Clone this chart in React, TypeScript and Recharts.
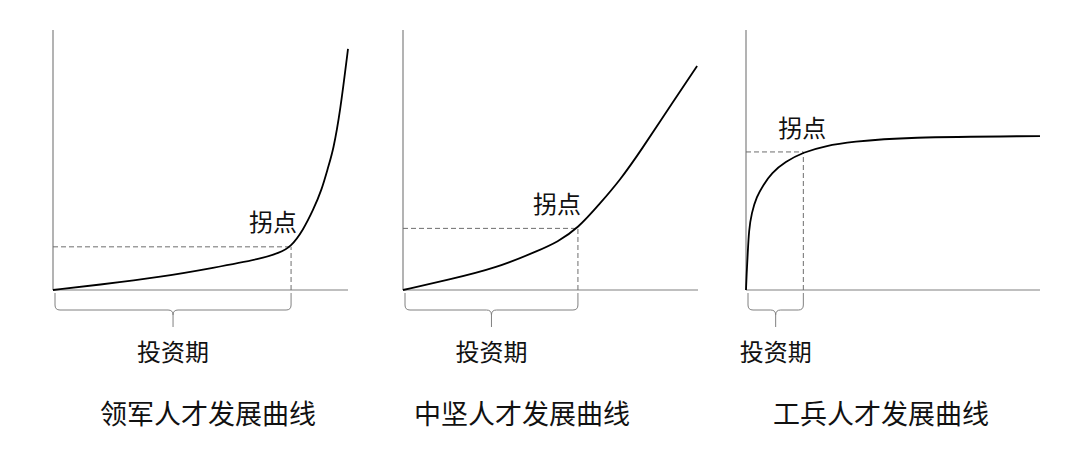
import React from 'react'
import { LineChart, Line, XAxis, YAxis, ReferenceLine, ReferenceDot } from 'recharts'

// curve samples (x and y both on a 0..100 scale)
const leaderX = [0, 14.8, 37.3, 54.2, 71, 76.5, 80.7, 84.8, 88.2, 91.1, 93.3, 95, 97.3, 100]
const leaderY = [0, 1.9, 5.1, 8.5, 12.1, 14.2, 16.6, 23.1, 30.8, 38.5, 47.4, 53.8, 68.1, 92.7]

const coreX = [0, 15, 31.9, 46.4, 52.2, 59.3, 66.8, 73.6, 80.4, 91.5, 99.7]
const coreY = [0, 3.8, 8.5, 15.4, 18.4, 23.7, 33.3, 42.3, 53.2, 72.3, 86.2]

const soldierX = [0, 0.2, 0.6, 1, 1.9, 3.6, 5.9, 8.7, 13.3, 19.5, 26.9, 36, 53.4, 100]
const soldierY = [0, 6, 14.2, 23.1, 29.6, 35.9, 40.4, 45, 49.3, 53, 55.4, 57, 58.8, 59.2]

// turning points
const kneeX = [80.7, 59.3, 19.5]
const kneeY = [16.6, 23.7, 53.1]

const titles = ['领军人才发展曲线', '中坚人才发展曲线', '工兵人才发展曲线']
const kneeLabel = '拐点'
const periodLabel = '投资期'

const FONT = '"Noto Sans CJK SC", "Noto Sans", sans-serif'
const GRAY = '#808080'
const DASH = '#6e6e6e'

const zip = (xs: number[], ys: number[]) => xs.map((x, i) => ({ x, y: ys[i] }))

function Brace(p: any) {
    const x1 = p.x1 + 2
    const x2 = p.x2
    const y0 = p.y1
    const top = y0 + 3
    const mid = y0 + 20
    const tip = y0 + 37
    const xm = (x1 + x2) / 2
    const r = 5
    const d =
        `M${x1},${top} L${x1},${mid - r} Q${x1},${mid} ${x1 + r},${mid} L${xm - r},${mid} ` +
        `Q${xm},${mid} ${xm},${mid + r} L${xm},${tip} M${xm},${mid + r} Q${xm},${mid} ${xm + r},${mid} ` +
        `L${x2 - r},${mid} Q${x2},${mid} ${x2},${mid - r} L${x2},${top}`
    return (
        <g>
            <path d={d} fill="none" stroke={GRAY} strokeWidth={1} />
            <text x={xm} y={y0 + 60} textAnchor="middle" dominantBaseline="central"
                fontFamily={FONT} fontSize={24} fill="#111">{periodLabel}</text>
        </g>
    )
}

type PanelProps = {
    left: number
    plotW: number
    data: { x: number; y: number }[]
    kx: number
    ky: number
    dx: number
    dy: number
}

function Panel({ left, plotW, data, kx, ky, dx, dy }: PanelProps) {
    const ml = 20
    return (
        <div style={{ position: 'absolute', left: left - ml, top: 0 }}>
            <LineChart width={plotW + ml + 20} height={458} data={data}
                margin={{ top: 30, right: 20, bottom: 168, left: ml }}>
                <XAxis type="number" dataKey="x" domain={[0, 100]} hide />
                <YAxis type="number" domain={[0, 100]} hide />
                {/* axes */}
                <ReferenceLine segment={[{ x: 0, y: 0 }, { x: 100, y: 0 }]} stroke={GRAY} strokeWidth={1.2} />
                <ReferenceLine segment={[{ x: 0, y: 0 }, { x: 0, y: 100 }]} stroke={GRAY} strokeWidth={1.2} />
                {/* turning point guides */}
                <ReferenceLine segment={[{ x: 0, y: ky }, { x: kx, y: ky }]}
                    stroke={DASH} strokeDasharray="5 3" />
                <ReferenceLine segment={[{ x: kx, y: 0 }, { x: kx, y: ky }]}
                    stroke={DASH} strokeDasharray="5 3" />
                <ReferenceLine segment={[{ x: 0, y: 0 }, { x: kx, y: 0 }]}
                    stroke="none" shape={(p: any) => <Brace {...p} />} />
                <ReferenceDot x={kx} y={ky} r={0}
                    shape={(p: any) => (
                        <text x={p.cx + dx} y={p.cy + dy} textAnchor="middle" dominantBaseline="central"
                            fontFamily={FONT} fontSize={24} fill="#111">{kneeLabel}</text>
                    )} />
                <Line type="basis" dataKey="y" stroke="#000" strokeWidth={1.8}
                    dot={false} activeDot={false} isAnimationActive={false} />
            </LineChart>
        </div>
    )
}

export default function App() {
    const titleCenters = [208, 522, 881]
    return (
        <div style={{ position: 'absolute', left: 0, top: 0, width: 1080, height: 458, background: '#fff', overflow: 'hidden' }}>
            <Panel left={53} plotW={295} data={zip(leaderX, leaderY)} kx={kneeX[0]} ky={kneeY[0]} dx={-18} dy={-26} />
            <Panel left={403} plotW={295} data={zip(coreX, coreY)} kx={kneeX[1]} ky={kneeY[1]} dx={-21} dy={-26} />
            <Panel left={746} plotW={294} data={zip(soldierX, soldierY)} kx={kneeX[2]} ky={kneeY[2]} dx={-1} dy={-25} />
            {titles.map((t, i) => (
                <div key={t} style={{
                    position: 'absolute', left: titleCenters[i] - 150, width: 300, top: 399,
                    textAlign: 'center', fontFamily: FONT, fontSize: 27, lineHeight: '28px', color: '#111'
                }}>{t}</div>
            ))}
        </div>
    )
}
